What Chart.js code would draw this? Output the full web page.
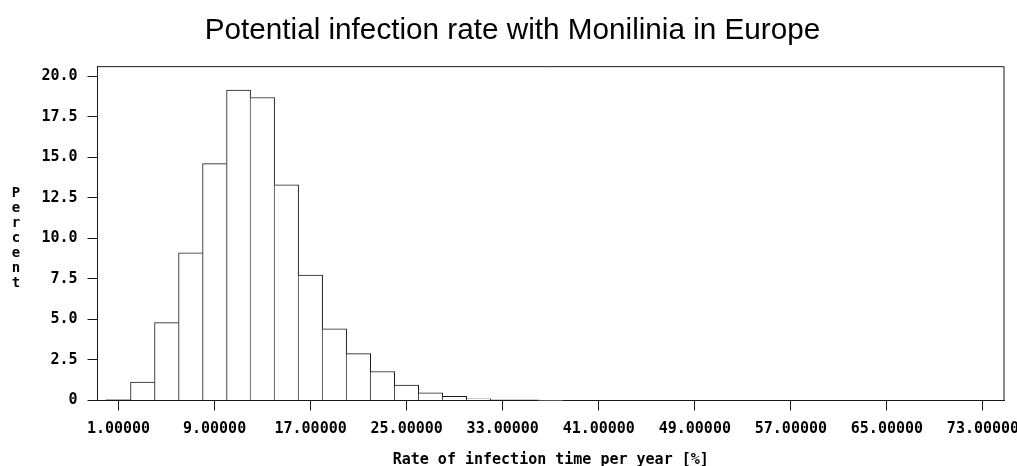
<!DOCTYPE html>
<html>
<head>
<meta charset="utf-8">
<script src="https://cdn.jsdelivr.net/npm/chart.js@4"></script>
<style>
  body { margin: 0; background: #fff; }
  #wrap { width: 1017px; height: 466px; }
</style>
</head>
<body>
<div id="wrap"><canvas id="chart" width="1017" height="466"></canvas></div>
<script>
// bin midpoints (width 2) and percentages
const binMids = [1, 3, 5, 7, 9, 11, 13, 15, 17, 19, 21, 23, 25, 27, 29, 31, 33, 35, 37,
  39, 41, 43, 45, 47, 49, 51, 53, 55, 57, 59, 61, 63, 65, 67, 69, 71, 73];
const percents = [0.06, 1.13, 4.8, 9.11, 14.6, 19.13, 18.68, 13.3, 7.73, 4.42, 2.89, 1.79, 0.95,
  0.47, 0.25, 0.1, 0.04, 0.04, 0, 0, 0, 0, 0, 0, 0, 0, 0, 0, 0, 0, 0, 0, 0, 0, 0, 0, 0];
const xTicks = [1, 9, 17, 25, 33, 41, 49, 57, 65, 73];
const yTicks = [0, 2.5, 5, 7.5, 10, 12.5, 15, 17.5, 20];

const monoFont = { family: "'DejaVu Sans Mono', monospace", size: 15, weight: 'bold' };
const lineColor = '#1a1a1a';

// only the taller of two neighbouring bars draws the shared edge
function edgeWidths(ctx) {
  const i = ctx.dataIndex;
  const v = percents[i];
  const prev = i > 0 ? percents[i - 1] : 0;
  const next = i < percents.length - 1 ? percents[i + 1] : 0;
  return { top: 1, bottom: 0, left: v >= prev ? 1 : 0, right: v > next ? 1 : 0 };
}

// top/right sides of the frame and the stacked "Percent" label
const framePlugin = {
  id: 'frame',
  afterDraw(chart) {
    const c = chart.ctx, a = chart.chartArea;
    c.save();
    c.strokeStyle = lineColor;
    c.lineWidth = 1;
    c.beginPath();
    c.moveTo(a.left, a.top);
    c.lineTo(a.right, a.top);
    c.lineTo(a.right, a.bottom);
    c.stroke();
    c.fillStyle = '#000';
    c.font = "bold 14px 'DejaVu Sans Mono', monospace";
    c.textAlign = 'center';
    c.textBaseline = 'alphabetic';
    'Percent'.split('').forEach((ch, k) => c.fillText(ch, 16, 197 + k * 15));
    c.restore();
  }
};

new Chart(document.getElementById('chart'), {
  type: 'bar',
  data: {
    datasets: [{
      data: binMids.map((x, i) => ({ x: x, y: percents[i] })),
      backgroundColor: '#fff',
      borderColor: lineColor,
      borderWidth: edgeWidths,
      borderSkipped: false,
      barPercentage: 1,
      categoryPercentage: 1
    }]
  },
  options: {
    responsive: false,
    animation: false,
    layout: { padding: { left: 8, right: 0, top: 0, bottom: 0 } },
    plugins: {
      legend: { display: false },
      tooltip: { enabled: false },
      title: {
        display: true,
        text: 'Potential infection rate with Monilinia in Europe',
        color: '#000',
        font: { family: "'Liberation Sans', Arial, sans-serif", size: 29.7, weight: 'normal', lineHeight: 1.1 },
        padding: { top: 14, bottom: 20 }
      }
    },
    scales: {
      x: {
        type: 'linear',
        min: -0.75,
        max: 74.75,
        offset: false,
        afterBuildTicks: s => { s.ticks = xTicks.map(v => ({ value: v })); },
        afterFit: s => { s.height = 65.5; s.paddingLeft = 0; s.paddingRight = 13; },
        ticks: {
          color: '#000',
          font: monoFont,
          padding: 10,
          maxRotation: 0,
          autoSkip: false,
          callback: v => Number(v).toFixed(5)
        },
        grid: { offset: false, drawOnChartArea: false, drawTicks: true, tickLength: 10, color: lineColor },
        border: { display: true, color: lineColor, width: 1 },
        title: {
          display: true,
          text: 'Rate of infection time per year [%]',
          color: '#000',
          font: { family: "'DejaVu Sans Mono', monospace", size: 15, weight: 'bold', lineHeight: 0.8 },
          padding: { top: 0, bottom: 0 }
        }
      },
      y: {
        min: 0,
        max: 20.58,
        afterBuildTicks: s => { s.ticks = yTicks.map(v => ({ value: v })); },
        afterFit: s => { s.width = 89.5; },
        ticks: {
          color: '#000',
          font: monoFont,
          padding: 10,
          callback: v => (v === 0 ? '0' : Number(v).toFixed(1))
        },
        grid: { drawOnChartArea: false, drawTicks: true, tickLength: 10, color: lineColor },
        border: { display: true, color: lineColor, width: 1 }
      }
    }
  },
  plugins: [framePlugin]
});
</script>
</body>
</html>
